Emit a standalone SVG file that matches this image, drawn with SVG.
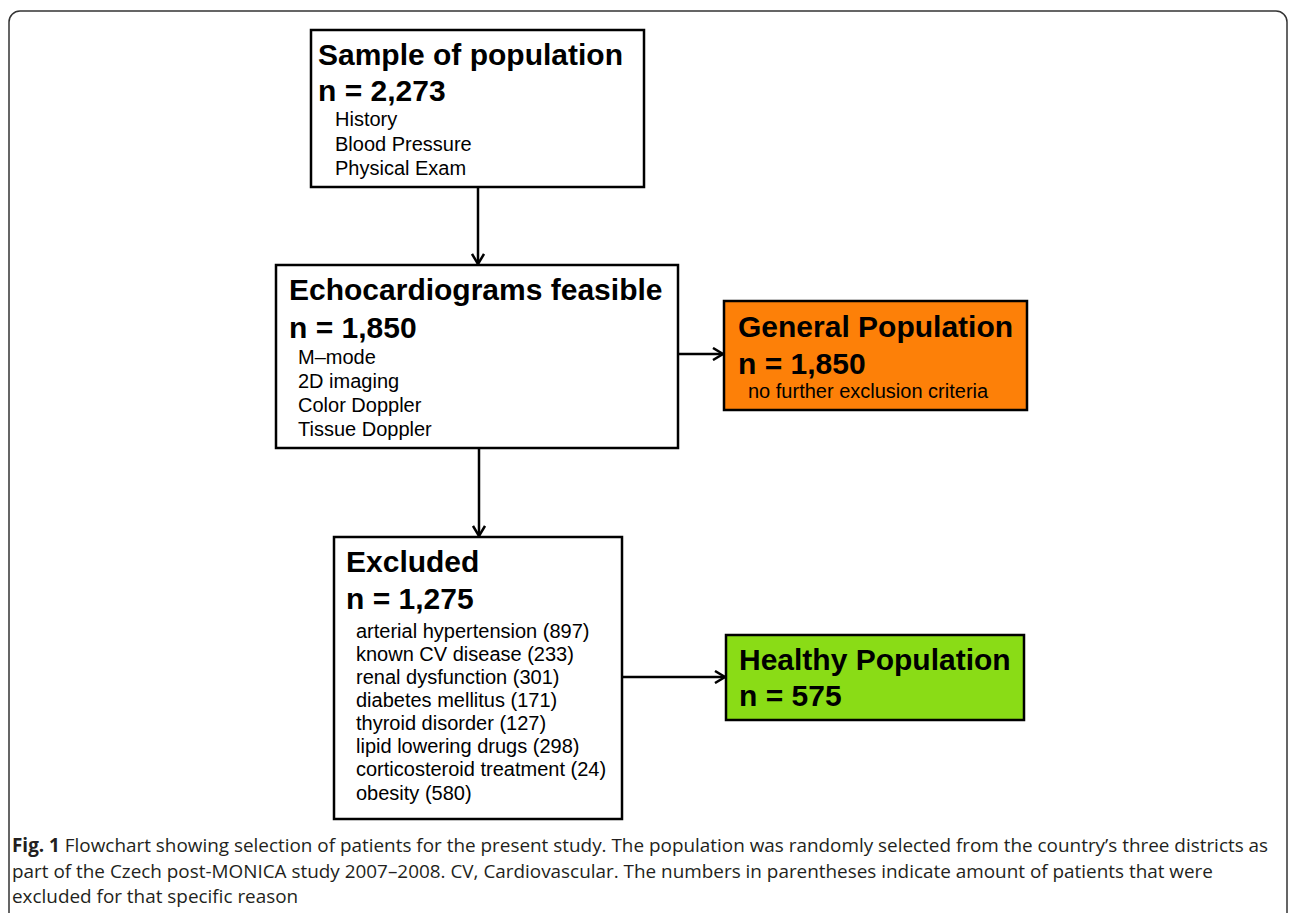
<svg xmlns="http://www.w3.org/2000/svg" width="1290" height="913" viewBox="0 0 1290 913">
<style>
.box{stroke:#000;stroke-width:2.5}
.t{font-family:"Liberation Sans",Arial,sans-serif;font-weight:bold;font-size:30px;fill:#000}
.s{font-family:"Liberation Sans",Arial,sans-serif;font-size:20px;fill:#000}
.c{font-family:"Open Sans","Noto Sans",sans-serif;font-size:18.9px;fill:#231f20}
.ln{stroke:#000;stroke-width:2.5;fill:none}
</style>
<defs>
<marker id="ah" markerWidth="14" markerHeight="14" refX="12" refY="7" orient="auto" markerUnits="userSpaceOnUse">
<path d="M2,1 L12,7 L2,13" fill="none" stroke="#000" stroke-width="2.5"/>
</marker>
</defs>
<rect x="9" y="11" width="1278" height="920" rx="11" ry="11" fill="#fff" stroke="#333" stroke-width="1.5"/>
<g id="connectors">
<line class="ln" x1="478" y1="188" x2="478" y2="264" marker-end="url(#ah)"/>
<line class="ln" x1="678" y1="354" x2="723" y2="354" marker-end="url(#ah)"/>
<line class="ln" x1="479" y1="448" x2="479" y2="536" marker-end="url(#ah)"/>
<line class="ln" x1="622" y1="677" x2="725" y2="677" marker-end="url(#ah)"/>
</g>
<g id="sample">
<rect class="box" x="311" y="30" width="333" height="157" fill="#fff"/>
<text class="t" x="318" y="65" font-size="30.3">Sample of population</text>
<text class="t" x="318" y="101">n = 2,273</text>
<text class="s" x="335" y="126" font-size="19.6">History</text>
<text class="s" x="335" y="151" font-size="19.6">Blood Pressure</text>
<text class="s" x="335" y="175" font-size="19.6">Physical Exam</text>
</g>
<g id="echo">
<rect class="box" x="276" y="265" width="402" height="183" fill="#fff"/>
<text class="t" x="289" y="300">Echocardiograms feasible</text>
<text class="t" x="289" y="338">n = 1,850</text>
<text class="s" x="298" y="364">M–mode</text>
<text class="s" x="298" y="388">2D imaging</text>
<text class="s" x="298" y="412">Color Doppler</text>
<text class="s" x="298" y="436">Tissue Doppler</text>
</g>
<g id="general">
<rect class="box" x="724" y="301" width="303" height="109" fill="#fd8008"/>
<text class="t" x="738" y="337">General Population</text>
<text class="t" x="738" y="374">n = 1,850</text>
<text class="s" x="748" y="398">no further exclusion criteria</text>
</g>
<g id="excluded">
<rect class="box" x="334" y="537" width="288" height="282" fill="#fff"/>
<text class="t" x="346" y="572">Excluded</text>
<text class="t" x="346" y="609">n = 1,275</text>
<g font-size="20.6">
<text class="s" x="356" y="638" font-size="20.6">arterial hypertension (897)</text>
<text class="s" x="356" y="661" font-size="20.6">known CV disease (233)</text>
<text class="s" x="356" y="684" font-size="20.6">renal dysfunction (301)</text>
<text class="s" x="356" y="707" font-size="20.6">diabetes mellitus (171)</text>
<text class="s" x="356" y="730" font-size="20.6">thyroid disorder (127)</text>
<text class="s" x="356" y="753" font-size="20.6">lipid lowering drugs (298)</text>
<text class="s" x="356" y="776" font-size="20.6">corticosteroid treatment (24)</text>
<text class="s" x="356" y="800" font-size="20.6">obesity (580)</text>
</g>
</g>
<g id="healthy">
<rect class="box" x="726" y="635" width="298" height="85" fill="#8adc16"/>
<text class="t" x="739" y="670">Healthy Population</text>
<text class="t" x="739" y="706">n = 575</text>
</g>
<g id="caption">
<text class="c" x="12" y="852"><tspan font-weight="bold">Fig. 1</tspan> Flowchart showing selection of patients for the present study. The population was randomly selected from the country’s three districts as</text>
<text class="c" x="12" y="878">part of the Czech post-MONICA study 2007–2008. CV, Cardiovascular. The numbers in parentheses indicate amount of patients that were</text>
<text class="c" x="12" y="903">excluded for that specific reason</text>
</g>
</svg>
